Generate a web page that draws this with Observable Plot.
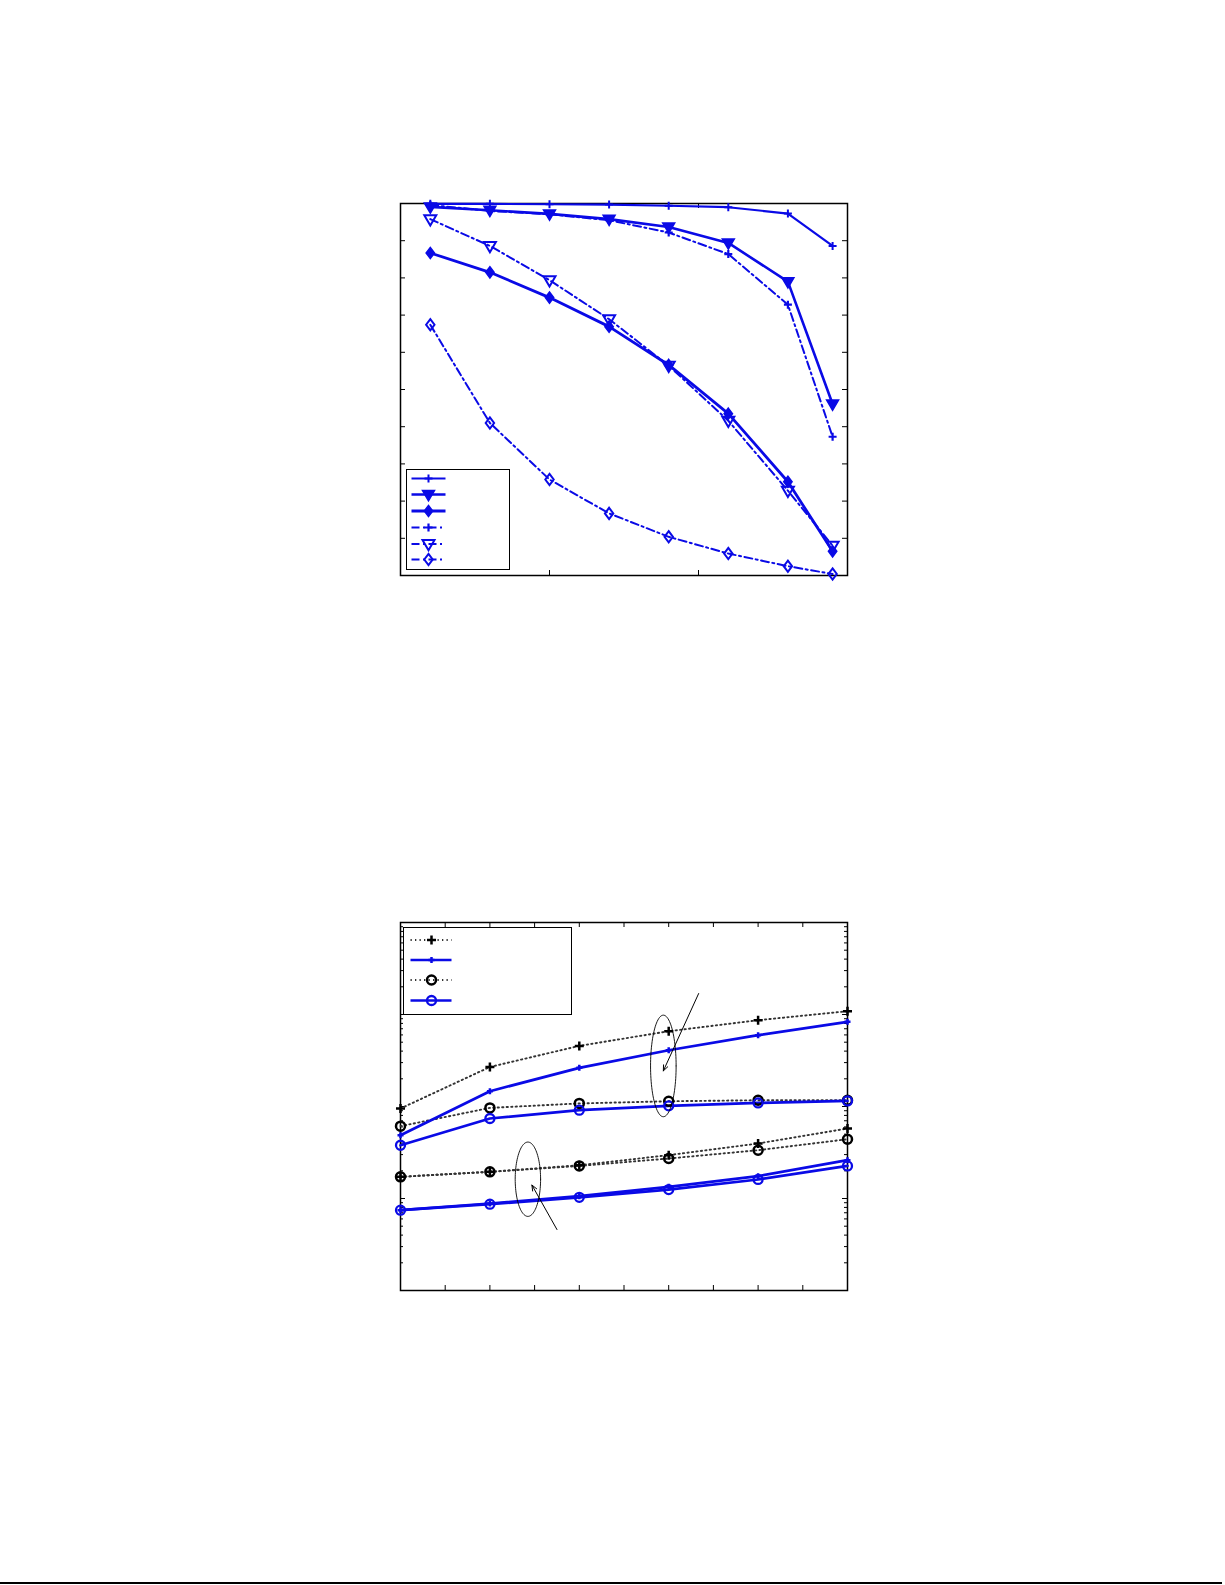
<!DOCTYPE html>
<html>
<head>
<meta charset="utf-8">
<script src="https://cdn.jsdelivr.net/npm/d3@7"></script>
<script src="https://cdn.jsdelivr.net/npm/@observablehq/plot@0.6"></script>
<style>
  html, body { margin: 0; padding: 0; background: white; }
  #page { position: relative; width: 1225px; height: 1585px; overflow: hidden; background: white; font-family: "DejaVu Sans", sans-serif; }
  #page > * { position: absolute; }
  svg { background: transparent !important; }
</style>
</head>
<body>
<div id="page"></div>
<script>
// ---------------- DATA ----------------
// Top chart (linear y, 0..1)
const topX = [1, 3, 5, 7, 9, 11, 13, 14.5];
const topS1 = [0.999, 0.999, 0.998, 0.997, 0.994, 0.990, 0.973, 0.886];   // solid, +
const topS2 = [0.991, 0.982, 0.972, 0.958, 0.937, 0.894, 0.790, 0.461];   // solid, filled ▼
const topS3 = [0.867, 0.815, 0.747, 0.669, 0.566, 0.435, 0.252, 0.065];   // solid thick, filled ◆
const topS4 = [0.996, 0.980, 0.971, 0.955, 0.922, 0.864, 0.728, 0.373];   // dash-dot, +
const topS5 = [0.958, 0.886, 0.794, 0.689, 0.564, 0.416, 0.228, 0.080];   // dash-dot, open ▽
const topS6 = [0.674, 0.410, 0.258, 0.167, 0.104, 0.059, 0.025, 0.004];   // dash-dot, open ◇
const topXTicks = [5, 10];
const topYTicks = [0.1, 0.2, 0.3, 0.4, 0.5, 0.6, 0.7, 0.8, 0.9];

// Bottom chart (log y)
const botX = [0, 2, 4, 6, 8, 10];
const botA  = [0.00951, 0.0269, 0.0456, 0.0658, 0.0867, 0.1086];     // black dotted, +
const botB  = [0.00488, 0.01466, 0.0263, 0.0409, 0.0596, 0.0832];    // blue solid, +
const botC  = [0.00611, 0.00966, 0.0108, 0.0114, 0.0117, 0.0117];    // black dotted, o
const botD  = [0.00379, 0.00741, 0.00912, 0.01016, 0.01094, 0.0115]; // blue solid, o
const botA2 = [0.00172, 0.00195, 0.00230, 0.00296, 0.00396, 0.00577];
const botC2 = [0.00172, 0.00195, 0.00226, 0.00272, 0.00335, 0.00441];
const botB2 = [0.000746, 0.000883, 0.00106, 0.00134, 0.00175, 0.00261];
const botD2 = [0.000746, 0.000867, 0.00103, 0.00125, 0.00161, 0.00226];
const botXTicks = [1, 2, 3, 4, 5, 6, 7, 8, 9];
const botYMajor = [1e-3, 1e-2, 1e-1];
const botDecades = [1e-4, 1e-3, 1e-2, 1e-1];

// Annotations (data coordinates; ellipse y radius in decades)
const ellCx = [5.88, 2.85];
const ellCy = [0.0276, 0.00162];
const ellRx = [0.286, 0.284];
const ellRyDec = [0.552, 0.404];
const arrX1 = [6.67, 3.50];
const arrY1 = [0.169, 0.00046];
const arrX2 = [5.88, 2.94];
const arrY2 = [0.0244, 0.0014];

// ---------------- HELPERS ----------------
const blue = "#0a0ae6";
const series = (xs, ys) => xs.map((x, i) => ({x, y: ys[i]}));
const rOf = size => Math.sqrt(size / Math.PI);
const symPlus = {draw(c, s) { const r = rOf(s); c.moveTo(-r, 0); c.lineTo(r, 0); c.moveTo(0, -r); c.lineTo(0, r); }};
const symTriDown = {draw(c, s) { const r = rOf(s); c.moveTo(0, r); c.lineTo(-r * 0.95, -r * 0.62); c.lineTo(r * 0.95, -r * 0.62); c.closePath(); }};
const symDiamond = {draw(c, s) { const r = rOf(s); c.moveTo(0, -r); c.lineTo(r * 0.75, 0); c.lineTo(0, r); c.lineTo(-r * 0.75, 0); c.closePath(); }};
const symCircle = {draw(c, s) { const r = rOf(s); c.moveTo(r, 0); c.arc(0, 0, r, 0, 2 * Math.PI); }};

const dashDot = "8,3.5,2,3.5";
const dotted = "1.3,3.2";

const topStyles = [
  {ys: topS1, line: {stroke: blue, strokeWidth: 2.2}, dot: {symbol: symPlus, r: 4, stroke: blue, strokeWidth: 2, fill: "none"}},
  {ys: topS2, line: {stroke: blue, strokeWidth: 2.6}, dot: {symbol: symTriDown, r: 6.3, stroke: blue, strokeWidth: 1.5, fill: blue}},
  {ys: topS3, line: {stroke: blue, strokeWidth: 2.8}, dot: {symbol: symDiamond, r: 5.6, stroke: blue, strokeWidth: 1.5, fill: blue}},
  {ys: topS4, line: {stroke: blue, strokeWidth: 2, strokeDasharray: dashDot}, dot: {symbol: symPlus, r: 4, stroke: blue, strokeWidth: 2.2, fill: "none"}},
  {ys: topS5, line: {stroke: blue, strokeWidth: 2, strokeDasharray: dashDot}, dot: {symbol: symTriDown, r: 6.3, stroke: blue, strokeWidth: 2, fill: "none"}},
  {ys: topS6, line: {stroke: blue, strokeWidth: 2, strokeDasharray: dashDot}, dot: {symbol: symDiamond, r: 5.6, stroke: blue, strokeWidth: 2, fill: "none"}}
];

const blackPlus = {symbol: symPlus, r: 4.5, stroke: "black", strokeWidth: 2.5, fill: "none"};
const bluePlus = {symbol: symPlus, r: 3, stroke: blue, strokeWidth: 2.5, fill: "none"};
const blackCirc = {symbol: symCircle, r: 4.5, stroke: "black", strokeWidth: 2.5, fill: "none"};
const blueCirc = {symbol: symCircle, r: 4.5, stroke: blue, strokeWidth: 2.3, fill: "none"};
const blackDotLine = {stroke: "#333", strokeWidth: 1.9, strokeDasharray: dotted};
const blueSolidLine = {stroke: blue, strokeWidth: 2.7};

const botStyles = [
  {ys: botA, line: blackDotLine, dot: blackPlus},
  {ys: botC, line: blackDotLine, dot: blackCirc},
  {ys: botB, line: blueSolidLine, dot: bluePlus},
  {ys: botD, line: blueSolidLine, dot: blueCirc},
  {ys: botA2, line: blackDotLine, dot: blackPlus},
  {ys: botC2, line: blackDotLine, dot: blackCirc},
  {ys: botB2, line: blueSolidLine, dot: bluePlus},
  {ys: botD2, line: blueSolidLine, dot: blueCirc}
];

const page = document.getElementById("page");

// ---------------- TOP CHART ----------------
{
  const W = 1225, H = 700, mL = 400, mR = 378, mT = 203, mB = 125;
  const fw = W - mL - mR, fh = H - mT - mB;
  const marks = [
    Plot.tickX(topXTicks, {x: d => d, insetTop: fh - 5, stroke: "black", strokeWidth: 1}),
    Plot.tickX(topXTicks, {x: d => d, insetBottom: fh - 5, stroke: "black", strokeWidth: 1}),
    Plot.tickY(topYTicks, {y: d => d, insetRight: fw - 5, stroke: "black", strokeWidth: 1}),
    Plot.tickY(topYTicks, {y: d => d, insetLeft: fw - 5, stroke: "black", strokeWidth: 1}),
    Plot.frame({stroke: "black", strokeWidth: 1.5})
  ];
  for (const s of topStyles) {
    marks.push(Plot.line(series(topX, s.ys), {x: "x", y: "y", ...s.line}));
  }
  for (const s of topStyles) {
    marks.push(Plot.dot(series(topX, s.ys), {x: "x", y: "y", ...s.dot}));
  }
  const chart = Plot.plot({
    width: W, height: H, marginLeft: mL, marginRight: mR, marginTop: mT, marginBottom: mB,
    x: {domain: [0, 15], axis: null},
    y: {domain: [0, 1], axis: null},
    marks
  });
  chart.style.left = "0px"; chart.style.top = "0px";
  page.appendChild(chart);
}

// ---------------- BOTTOM CHART ----------------
{
  const W = 1225, H = 885, mL = 400, mR = 378, mT = 222, mB = 295;
  const fw = W - mL - mR, fh = H - mT - mB;
  const minor = botDecades.flatMap(d => [2, 3, 4, 5, 6, 7, 8, 9].map(m => m * d));
  const ellipses = ellCx.flatMap((cx, k) => d3.range(0, 101).map(i => {
    const t = (i / 100) * 2 * Math.PI;
    return {k, x: cx + ellRx[k] * Math.cos(t), y: Math.pow(10, Math.log10(ellCy[k]) + ellRyDec[k] * Math.sin(t))};
  }));
  const arrows = arrX1.map((x1, i) => ({x1, y1: arrY1[i], x2: arrX2[i], y2: arrY2[i]}));
  const marks = [
    Plot.tickX(botXTicks, {x: d => d, insetTop: fh - 5, stroke: "black", strokeWidth: 1}),
    Plot.tickX(botXTicks, {x: d => d, insetBottom: fh - 5, stroke: "black", strokeWidth: 1}),
    Plot.tickY(botYMajor, {y: d => d, insetRight: fw - 5, stroke: "black", strokeWidth: 1}),
    Plot.tickY(botYMajor, {y: d => d, insetLeft: fw - 5, stroke: "black", strokeWidth: 1}),
    Plot.tickY(minor, {y: d => d, insetRight: fw - 3, stroke: "black", strokeWidth: 1}),
    Plot.tickY(minor, {y: d => d, insetLeft: fw - 3, stroke: "black", strokeWidth: 1}),
    Plot.frame({stroke: "black", strokeWidth: 1.5})
  ];
  for (const s of botStyles) {
    marks.push(Plot.line(series(botX, s.ys), {x: "x", y: "y", ...s.line}));
  }
  for (const s of botStyles) {
    marks.push(Plot.dot(series(botX, s.ys), {x: "x", y: "y", ...s.dot}));
  }
  marks.push(Plot.line(ellipses, {x: "x", y: "y", z: "k", stroke: "black", strokeWidth: 0.9, curve: "linear"}));
  marks.push(Plot.arrow(arrows, {x1: "x1", y1: "y1", x2: "x2", y2: "y2", stroke: "black", strokeWidth: 1, headLength: 9, headAngle: 45}));
  const chart = Plot.plot({
    width: W, height: H, marginLeft: mL, marginRight: mR, marginTop: mT, marginBottom: mB,
    x: {domain: [0, 10], axis: null},
    y: {type: "log", domain: [1e-4, 1], axis: null},
    marks
  });
  chart.style.left = "0px"; chart.style.top = "700px";
  page.appendChild(chart);
}

// ---------------- LEGENDS ----------------
function legend(left, top, w, h, rows, rowY, lineX0, lineX1, markX) {
  const svg = d3.create("svg").attr("width", w + 2).attr("height", h + 2)
    .style("left", left + "px").style("top", top + "px").style("position", "absolute");
  svg.append("rect").attr("x", 0.5).attr("y", 0.5).attr("width", w).attr("height", h)
    .attr("fill", "white").attr("stroke", "black").attr("stroke-width", 1);
  rows.forEach((s, i) => {
    const y = rowY[i];
    const ln = svg.append("line").attr("x1", lineX0).attr("x2", lineX1).attr("y1", y).attr("y2", y)
      .attr("stroke", s.line.stroke).attr("stroke-width", s.line.strokeWidth);
    if (s.line.strokeDasharray) ln.attr("stroke-dasharray", s.line.strokeDasharray);
    const p = d3.path();
    s.dot.symbol.draw(p, Math.PI * s.dot.r * s.dot.r);
    svg.append("path").attr("d", p.toString()).attr("transform", `translate(${markX},${y})`)
      .attr("fill", s.dot.fill).attr("stroke", s.dot.stroke).attr("stroke-width", s.dot.strokeWidth);
  });
  page.appendChild(svg.node());
}
legend(406, 469, 103, 100, topStyles, [9.5, 25.5, 42, 58.5, 75, 90.5], 5.5, 39.5, 22.5);
legend(403, 927, 168, 87, [botStyles[0], botStyles[2], botStyles[1], botStyles[3]], [13, 33, 53, 73.5], 7.5, 48.5, 28.5);

// ---------------- PAGE RULE ----------------
const rule = document.createElement("div");
rule.style.left = "0px"; rule.style.top = "1582px"; rule.style.width = "1222px"; rule.style.height = "2px"; rule.style.background = "black";
page.appendChild(rule);
</script>
</body>
</html>
